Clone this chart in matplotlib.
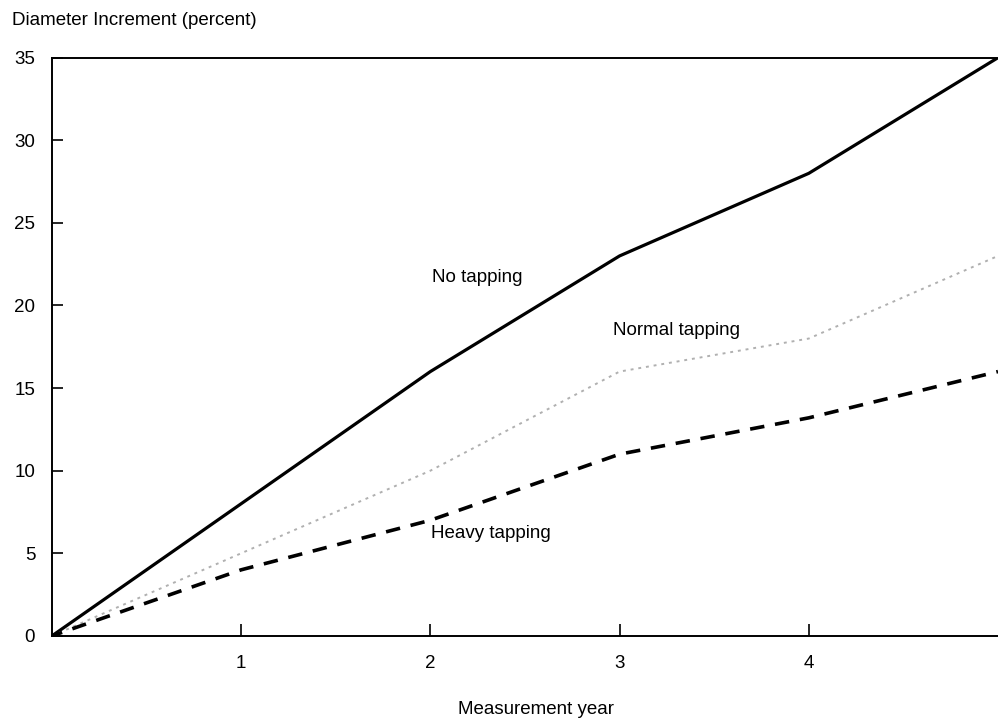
import matplotlib
matplotlib.use('Agg')
import matplotlib.pyplot as plt

plt.rcParams['font.family'] = ['Liberation Sans', 'DejaVu Sans']

# Data
years = [0, 1, 2, 3, 4, 5]
no_tapping = [0, 8, 16, 23, 28, 35]
normal_tapping = [0, 5, 10, 16, 18, 23]
heavy_tapping = [0, 4, 7, 11, 13.2, 16]

fig = plt.figure(figsize=(9.98, 7.21), dpi=100)
ax = fig.add_axes([0.052, 0.118, 0.948, 0.802])

ax.plot(years, no_tapping, color='black', lw=2.3)
ax.plot(years, normal_tapping, color='#b0b0b0', lw=1.4, linestyle=(0, (1.5, 2.5)))
ax.plot(years, heavy_tapping, color='black', lw=2.6, linestyle=(1, (4, 3)))

ax.text(2.25, 21.7, 'No tapping', fontsize=13.5, ha='center', va='center')
ax.text(3.30, 18.5, 'Normal tapping', fontsize=13.5, ha='center', va='center')
ax.text(2.32, 6.2, 'Heavy tapping', fontsize=13.5, ha='center', va='center')

ax.set_xlim(0, 5)
ax.set_ylim(0, 35)
ax.set_xticks([1, 2, 3, 4])
ax.set_yticks([0, 5, 10, 15, 20, 25, 30, 35])
ax.tick_params(axis='x', direction='in', length=9, width=1.2, pad=14, labelsize=13.5)
ax.tick_params(axis='y', direction='in', length=8, width=1.2, pad=12, labelsize=13.5)

ax.spines['right'].set_visible(False)
for s in ['top', 'left', 'bottom']:
    ax.spines[s].set_linewidth(1.4)

fig.text(0.012, 0.972, 'Diameter Increment (percent)', fontsize=13.5, ha='left', va='center')
fig.text(0.537, 0.004, 'Measurement year', fontsize=13.5, ha='center', va='bottom')

fig.savefig('out.png', dpi=100)
